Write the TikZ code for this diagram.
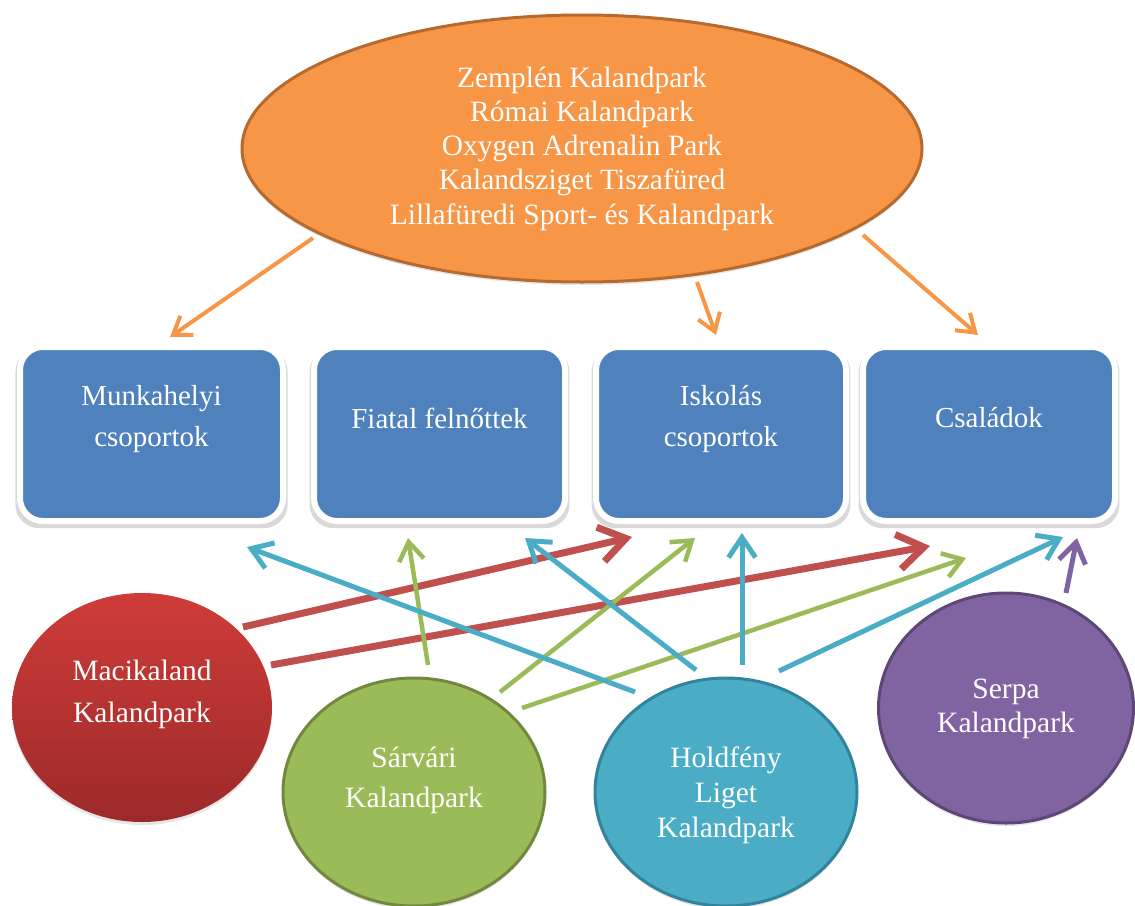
\documentclass[tikz,border=0pt]{standalone}
\usepackage{fontspec}
\setmainfont{Liberation Serif}
\usetikzlibrary{arrows.meta,shapes.geometric,shadows,calc}

\definecolor{parkorange}{HTML}{F79646}
\definecolor{parkbrown}{HTML}{B66A2F}
\definecolor{groupblue}{HTML}{4F81BD}
\definecolor{macired}{HTML}{C0504D}
\definecolor{macitop}{HTML}{CE3C39}
\definecolor{macibottom}{HTML}{9C2A2A}
\definecolor{sargreen}{HTML}{9BBB59}
\definecolor{sardark}{HTML}{71893F}
\definecolor{holdteal}{HTML}{4BACC6}
\definecolor{holddark}{HTML}{31849B}
\definecolor{serpapurple}{HTML}{8064A2}
\definecolor{serpadark}{HTML}{5C4776}

\tikzset{
  group/.style={rounded corners=23pt, fill=groupblue, draw=white, line width=6pt,
    minimum height=174pt, inner sep=0pt,
    drop shadow={opacity=0.3, shadow xshift=0pt, shadow yshift=-4pt, shadow scale=1.035}},
  park/.style={ellipse, inner sep=0pt, line width=3pt,
    drop shadow={opacity=0.2, shadow xshift=0pt, shadow yshift=-3pt}},
  txt/.style={text=white, align=center, inner sep=0pt},
  arr/.style={line width=#1, -{Straight Barb[length=5pt 3, width=7pt 4]}},
}

\begin{document}
\begin{tikzpicture}[x=1pt, y=-1pt]
    \useasboundingbox (0,0) rectangle (1135,905);

    % top: the parks of the first group
    \node[park, fill=parkorange, draw=parkbrown, minimum width=680pt, minimum height=267pt,
        txt, font=\fontsize{29.5}{34.25}\selectfont] (kaland) at (582,148.5)
        {Zemplén Kalandpark\\Római Kalandpark\\Oxygen Adrenalin Park\\Kalandsziget Tiszafüred\\Lillafüredi Sport- és Kalandpark};

    % target groups
    \node[group, minimum width=263pt] (munka) at (151.5,434) {};
    \node[group, minimum width=251pt] (fiatal) at (439.5,434) {};
    \node[group, minimum width=250pt] (iskola) at (721,434) {};
    \node[group, minimum width=252pt] (csalad) at (989,434) {};
    \node[txt, font=\fontsize{29}{41}\selectfont] (munka-t) at ($(munka)+(0,-15)$) {Munkahelyi\\csoportok};
    \node[txt, font=\fontsize{29}{41}\selectfont] (fiatal-t) at ($(fiatal)+(0,-16)$) {Fiatal felnőttek};
    \node[txt, font=\fontsize{29}{41}\selectfont] (iskola-t) at ($(iskola)+(0,-15)$) {Iskolás\\csoportok};
    \node[txt, font=\fontsize{29}{41}\selectfont] (csalad-t) at ($(csalad)+(0,-16)$) {Családok};

    % bottom: the other parks
    \node[park, top color=macitop, bottom color=macibottom, minimum width=260pt, minimum height=229pt] (maci) at (142,707.5) {};
    \node[park, fill=sargreen, draw=sardark, minimum width=262pt, minimum height=228pt] (sarvar) at (414,792) {};
    \node[park, fill=holdteal, draw=holddark, minimum width=262pt, minimum height=228pt] (hold) at (726,792) {};
    \node[park, fill=serpapurple, draw=serpadark, minimum width=255pt, minimum height=230pt] (serpa) at (1006,708) {};
    \node[txt, font=\fontsize{29.5}{42}\selectfont] (maci-t) at ($(maci)+(0,-13)$) {Macikaland\\Kalandpark};
    \node[txt, font=\fontsize{29.5}{40}\selectfont] (sarvar-t) at ($(sarvar)+(0,-12)$) {Sárvári\\Kalandpark};
    \node[txt, font=\fontsize{29.5}{35}\selectfont] (hold-t) at ($(hold)+(0,3)$) {Holdfény\\Liget\\Kalandpark};
    \node[txt, font=\fontsize{29.5}{34}\selectfont] (serpa-t) at ($(serpa)+(0,1)$) {Serpa\\Kalandpark};

    % orange arrows
    \draw[arr=4pt, parkorange] ($(kaland)+(-269,89.5)$) -- ($(munka)+(18.5,-97)$);
    \draw[arr=4pt, parkorange] ($(kaland)+(115,133.5)$) -- ($(iskola)+(-5,-99)$);
    \draw[arr=4pt, parkorange] ($(kaland)+(281,86.5)$) -- ($(csalad)+(-11,-99)$);

    % red arrows
    \draw[arr=7pt, macired] ($(maci)+(101,-80.5)$) -- ($(iskola)+(-89,103)$);
    \draw[arr=7pt, macired] ($(maci)+(129,-42.5)$) -- ($(csalad)+(-59,112)$);

    % green arrows
    \draw[arr=4.5pt, sargreen] ($(sarvar)+(14,-127)$) -- ($(fiatal)+(-31.5,104)$);
    \draw[arr=4.5pt, sargreen] ($(sarvar)+(86,-100)$) -- ($(iskola)+(-26,104)$);
    \draw[arr=4.5pt, sargreen] ($(sarvar)+(108,-84)$) -- ($(csalad)+(-23,124)$);

    % blue arrows
    \draw[arr=5pt, holdteal] ($(hold)+(-91,-100)$) -- ($(munka)+(95.5,113)$);
    \draw[arr=5pt, holdteal] ($(hold)+(-30,-122)$) -- ($(fiatal)+(85.5,104)$);
    \draw[arr=5pt, holdteal] ($(hold)+(16,-127)$) -- ($(iskola)+(21,99)$);
    \draw[arr=5pt, holdteal] ($(hold)+(53,-121)$) -- ($(csalad)+(74,103)$);

    % purple arrow
    \draw[arr=5pt, serpapurple] ($(serpa)+(60,-115)$) -- ($(csalad)+(88,104)$);
\end{tikzpicture}
\end{document}
